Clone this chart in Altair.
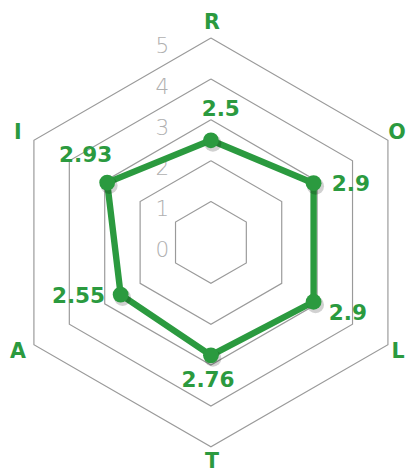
import math
import altair as alt
import pandas as pd

# ---- data ----
categories = ["R", "O", "L", "T", "A", "I"]
scores = [2.5, 2.9, 2.9, 2.76, 2.55, 2.93]
score_labels = ["2.5", "2.9", "2.9", "2.76", "2.55", "2.93"]
ring_levels = [1, 2, 3, 4, 5]
tick_labels = ["0", "1", "2", "3", "4", "5"]

# ---- style ----
GREEN = "#2b9a3f"
GRID = "#9a9a9a"
TICK = "#b0b0b0"
UNIT = 41.7  # px per score unit
W, H = 406, 467
CX, CY = 207, 234.5
# label offsets (screen px) for value labels
label_dx = [10, 38, 35, -3, -43, -22]
label_dy = [-32, 1, 12, 25, 2, -28]
# axis-label placement (screen px offsets from the radial position)
AXIS_LABEL_R = 5.37
axis_label_dx = [1, -4, -3, 1, -3, -3]
TICK_X = -1.19

n = len(categories)


def pos(i, r):
    a = math.radians(i * 360 / n)
    return r * math.sin(a), r * math.cos(a)


# grid hexagons
grid_rows = []
for lv in ring_levels:
    for k in range(n + 1):
        x, y = pos(k % n, lv)
        grid_rows.append({"level": lv, "k": k, "x": x, "y": y})
grid_df = pd.DataFrame(grid_rows)

# series polygon
poly_rows = []
for k in range(n + 1):
    i = k % n
    x, y = pos(i, scores[i])
    poly_rows.append({"k": k, "x": x, "y": y, "cat": categories[i]})
poly_df = pd.DataFrame(poly_rows)

pts_rows = []
for i in range(n):
    x, y = pos(i, scores[i])
    pts_rows.append({
        "cat": categories[i], "x": x, "y": y,
        "lx": x + label_dx[i] / UNIT, "ly": y - label_dy[i] / UNIT,
        "label": score_labels[i],
    })
pts_df = pd.DataFrame(pts_rows)

axis_rows = []
for i in range(n):
    x, y = pos(i, AXIS_LABEL_R)
    axis_rows.append({"cat": categories[i], "x": x + axis_label_dx[i] / UNIT, "y": y})
axis_df = pd.DataFrame(axis_rows)

tick_df = pd.DataFrame({"t": tick_labels,
                        "x": [TICK_X] * len(tick_labels),
                        "y": [float(t) for t in tick_labels]})

xs = alt.Scale(domain=[-5, 5], range=[CX - 5 * UNIT, CX + 5 * UNIT])
ys = alt.Scale(domain=[-5, 5], range=[CY + 5 * UNIT, CY - 5 * UNIT])
X = lambda f: alt.X(f, type="quantitative", scale=xs, axis=None)
Y = lambda f: alt.Y(f, type="quantitative", scale=ys, axis=None)

grid = alt.Chart(grid_df).mark_line(color=GRID, strokeWidth=1.2).encode(
    x=X("x"), y=Y("y"), detail="level:N", order="k:Q")

ticks = alt.Chart(tick_df).mark_text(
    font="DejaVu Sans", fontWeight=300, fontSize=22, color=TICK,
    align="center", baseline="top", dy=-2).encode(x=X("x"), y=Y("y"), text="t:N")

line = alt.Chart(poly_df).mark_line(
    color=GREEN, strokeWidth=6.5, strokeJoin="round").encode(
    x=X("x"), y=Y("y"), order="k:Q")

shadow = alt.Chart(pts_df).mark_circle(
    color="#000000", opacity=0.18, size=300, xOffset=2, yOffset=3).encode(
    x=X("x"), y=Y("y"))

points = alt.Chart(pts_df).mark_circle(
    color=GREEN, opacity=1, size=260).encode(x=X("x"), y=Y("y"))

vlabels = alt.Chart(pts_df).mark_text(
    font="DejaVu Sans", fontWeight="bold", fontSize=22, color=GREEN,
    align="center", baseline="middle").encode(x=X("lx"), y=Y("ly"), text="label:N")

alabels = alt.Chart(axis_df).mark_text(
    font="DejaVu Sans", fontWeight="bold", fontSize=21, color=GREEN,
    align="center", baseline="middle").encode(x=X("x"), y=Y("y"), text="cat:N")

chart = alt.layer(grid, ticks, line, shadow, points, vlabels, alabels).properties(
    width=W, height=H, padding=0, autosize="none"
).configure_view(stroke=None)

chart.save("out.html", embed_options={"renderer": "svg", "actions": False})
